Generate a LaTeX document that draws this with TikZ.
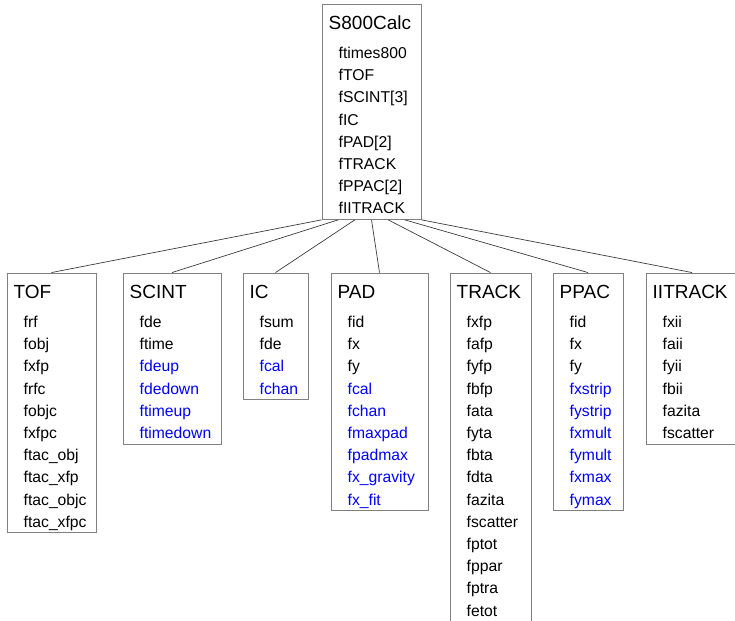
\documentclass[tikz,border=0pt]{standalone}
\usepackage{fontspec}
\setmainfont{Liberation Sans}
\usetikzlibrary{fit,calc}

\definecolor{framegray}{RGB}{128,128,128}
\definecolor{linkgray}{RGB}{60,60,60}
\definecolor{fieldblue}{RGB}{0,0,255}

\tikzset{
  frame/.style={draw=framegray, line width=0.9bp, inner sep=0pt},
  titletext/.style={anchor=base west, inner sep=0pt, font=\fontsize{19bp}{22bp}\selectfont},
  fieldtext/.style={anchor=base west, inner sep=0pt, font=\fontsize{15.7bp}{18bp}\selectfont},
  link/.style={draw=linkgray, line width=0.7bp},
}

% #1 name, #2 left, #3 right, #4 top, #5 number of fields, #6 title, #7 colour/field list
\newcommand\classbox[7]{%
  \pgfmathsetmacro\boxbottom{#4+54.5+22.2*(#5-1)+5.5}
  \coordinate (#1-nw) at (#2,#4);
  \coordinate (#1-se) at (#3,\boxbottom);
  \node[frame, fit=(#1-nw)(#1-se)] (#1) {};
  \node[titletext] (#1-title) at ($(#1-nw)+(6.5,25.5)$) {#6};
  \foreach \c/\t [count=\i from 0] in {#7}
    \node[fieldtext, text=\c] (#1-f\i) at ($(#1-nw)+(16.5,54.5+22.2*\i)$) {\t};
}

\begin{document}
\begin{tikzpicture}[x=1bp, y=-1bp]
  \useasboundingbox (0,0) rectangle (735,621);

  \classbox{calc}{322}{421}{4}{8}{S800Calc}{black/ftimes800, black/fTOF, black/fSCINT[3], black/fIC,
    black/fPAD[2], black/fTRACK, black/fPPAC[2], black/fIITRACK}

  \classbox{tof}{7}{96}{273}{10}{TOF}{black/frf, black/fobj, black/fxfp, black/frfc, black/fobjc,
    black/fxfpc, black/ftac\_obj, black/ftac\_xfp, black/ftac\_objc, black/ftac\_xfpc}

  \classbox{scint}{123}{221}{273}{6}{SCINT}{black/fde, black/ftime, fieldblue/fdeup,
    fieldblue/fdedown, fieldblue/ftimeup, fieldblue/ftimedown}

  \classbox{ic}{243}{308}{273}{4}{IC}{black/fsum, black/fde, fieldblue/fcal, fieldblue/fchan}

  \classbox{pad}{331}{428}{273}{9}{PAD}{black/fid, black/fx, black/fy, fieldblue/fcal,
    fieldblue/fchan, fieldblue/fmaxpad, fieldblue/fpadmax, fieldblue/fx\_gravity, fieldblue/fx\_fit}

  \classbox{track}{450}{531}{273}{14}{TRACK}{black/fxfp, black/fafp, black/fyfp, black/fbfp,
    black/fata, black/fyta, black/fbta, black/fdta, black/fazita, black/fscatter,
    black/fptot, black/fppar, black/fptra, black/fetot}

  \classbox{ppac}{553}{623}{273}{9}{PPAC}{black/fid, black/fx, black/fy, fieldblue/fxstrip,
    fieldblue/fystrip, fieldblue/fxmult, fieldblue/fymult, fieldblue/fxmax, fieldblue/fymax}

  \classbox{iitrack}{646}{738}{273}{6}{IITRACK}{black/fxii, black/faii, black/fyii, black/fbii,
    black/fazita, black/fscatter}

  % links from the parent class to its members
  \foreach \child [count=\k from 0] in {tof,scint,ic,pad,track,ppac,iitrack}
    \draw[link] ($(calc.south west)!{\k/6}!(calc.south east)$) -- (\child.north);
\end{tikzpicture}
\end{document}
